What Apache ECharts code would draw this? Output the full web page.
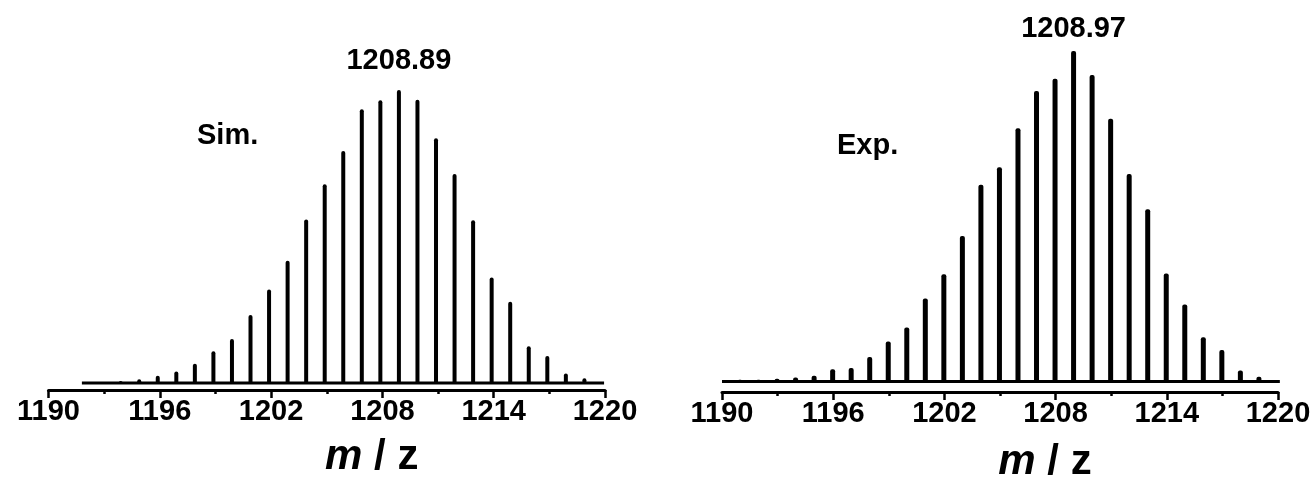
<!DOCTYPE html>
<html>
<head>
<meta charset="utf-8">
<title>Sim. vs Exp. m/z</title>
<script src="https://cdn.jsdelivr.net/npm/echarts@6/dist/echarts.min.js"></script>
<style>
  html, body { margin: 0; padding: 0; background: #fff; }
  #chart { width: 1314px; height: 479px; }
</style>
</head>
<body>
<div id="chart"></div>
<script>
// x axis ticks (m/z)
const tickLabels = [1190, 1196, 1202, 1208, 1214, 1220]

// simulated isotope pattern
const simMz = [1192.89, 1193.89, 1194.89, 1195.89, 1196.89, 1197.89, 1198.89, 1199.89, 1200.89,
    1201.89, 1202.89, 1203.89, 1204.89, 1205.89, 1206.89, 1207.89, 1208.89, 1209.89,
    1210.89, 1211.89, 1212.89, 1213.89, 1214.89, 1215.89, 1216.89, 1217.89, 1218.89]
const simInt = [0.3, 0.7, 1.3, 2.5, 3.9, 6.6, 10.8, 15.0, 23.2,
    31.9, 41.7, 55.8, 67.8, 79.2, 93.4, 96.5, 100, 96.7,
    83.5, 71.3, 55.5, 36.0, 27.7, 12.5, 9.2, 3.2, 1.6]
const simBaseline = [[1191.8, 0], [1219.95, 0]]

// experimental spectrum
const expMz = [1190.97, 1191.97, 1192.97, 1193.97, 1194.97, 1195.97, 1196.97, 1197.97, 1198.97,
    1199.97, 1200.97, 1201.97, 1202.97, 1203.97, 1204.97, 1205.97, 1206.97, 1207.97,
    1208.97, 1209.97, 1210.97, 1211.97, 1212.97, 1213.97, 1214.97, 1215.97, 1216.97,
    1217.97, 1218.97]
const expInt = [0.5, 0.5, 0.8, 1.2, 1.7, 3.7, 4.1, 7.4, 12.1,
    16.3, 25.1, 32.4, 44.0, 59.5, 64.8, 76.6, 87.9, 91.6,
    100, 92.7, 79.5, 62.8, 52.1, 32.7, 23.3, 13.4, 9.5,
    3.3, 1.4]
const expBaseline = [[1190, 0], [1220.1, 0]]

const simPeakLabel = '1208.89'
const expPeakLabel = '1208.97'

const FONT = 'Liberation Sans, Arial, Helvetica, sans-serif'

function peaks(mz, inten, label, dist) {
    const top = inten.indexOf(Math.max(...inten))
    return mz.map((m, i) => {
        if (i !== top) return [m, inten[i]]
        return {
            value: [m, inten[i]],
            label: {
                show: true, position: 'top', distance: dist, formatter: label,
                color: '#000', fontFamily: FONT, fontWeight: 'bold', fontSize: 29
            }
        }
    })
}

function xAxisFor(idx) {
    return {
        type: 'value', gridIndex: idx, min: tickLabels[0], max: tickLabels[tickLabels.length - 1], interval: 6,
        name: '{i|m} / z', nameLocation: 'middle', nameGap: idx === 0 ? 46 : 49,
        nameTextStyle: {
            color: '#000', fontFamily: FONT, fontWeight: 'bold', fontSize: 42,
            padding: [0, 0, 0, 90],
            rich: { i: { fontStyle: 'italic', fontWeight: 'bold', fontSize: 42, fontFamily: FONT, color: '#000' } }
        },
        axisLine: { show: true, onZero: false, lineStyle: { color: '#000', width: 3 } },
        axisTick: { show: true, inside: false, length: 8, lineStyle: { color: '#000', width: 2.5 } },
        minorTick: { show: true, splitNumber: 2, length: 4, lineStyle: { color: '#000', width: 2.5 } },
        splitLine: { show: false },
        axisLabel: {
            color: '#000', fontFamily: FONT, fontWeight: 'bold', fontSize: 29, margin: 7,
            showMinLabel: true, showMaxLabel: true,
            formatter: (v) => String(v)
        }
    }
}

function yAxisFor(idx, min) {
    return {
        type: 'value', gridIndex: idx, min: min, max: 100, show: false,
        splitLine: { show: false }
    }
}

const chart = echarts.init(document.getElementById('chart'), null, { renderer: 'canvas' })
chart.setOption({
    backgroundColor: '#fff',
    animation: false,
    grid: [
        { left: 48.5, right: 709, top: 90, bottom: 89, containLabel: false, outerBoundsMode: 'none' },
        { left: 722, right: 36, top: 51, bottom: 87, containLabel: false, outerBoundsMode: 'none' }
    ],
    xAxis: [xAxisFor(0), xAxisFor(1)],
    yAxis: [yAxisFor(0, -2.4), yAxisFor(1, -3.2)],
    graphic: [
        { type: 'text', left: 197, top: 121, style: { text: 'Sim.', fill: '#000', font: 'bold 29px ' + FONT } },
        { type: 'text', left: 837, top: 131, style: { text: 'Exp.', fill: '#000', font: 'bold 29px ' + FONT } }
    ],
    series: [
        {
            name: 'Sim baseline', type: 'line', xAxisIndex: 0, yAxisIndex: 0,
            data: simBaseline, symbol: 'none', lineStyle: { color: '#000', width: 3 }, z: 2
        },
        {
            name: 'Sim', type: 'bar', xAxisIndex: 0, yAxisIndex: 0, barWidth: 4,
            data: peaks(simMz, simInt, simPeakLabel, 15),
            itemStyle: { color: '#000', borderRadius: [2, 2, 0, 0] }, z: 3
        },
        {
            name: 'Exp baseline', type: 'line', xAxisIndex: 1, yAxisIndex: 1,
            data: expBaseline, symbol: 'none', lineStyle: { color: '#000', width: 3 }, z: 2
        },
        {
            name: 'Exp', type: 'bar', xAxisIndex: 1, yAxisIndex: 1, barWidth: 5,
            data: peaks(expMz, expInt, expPeakLabel, 8),
            itemStyle: { color: '#000', borderRadius: [2, 2, 0, 0] }, z: 3
        }
    ]
})
</script>
</body>
</html>
